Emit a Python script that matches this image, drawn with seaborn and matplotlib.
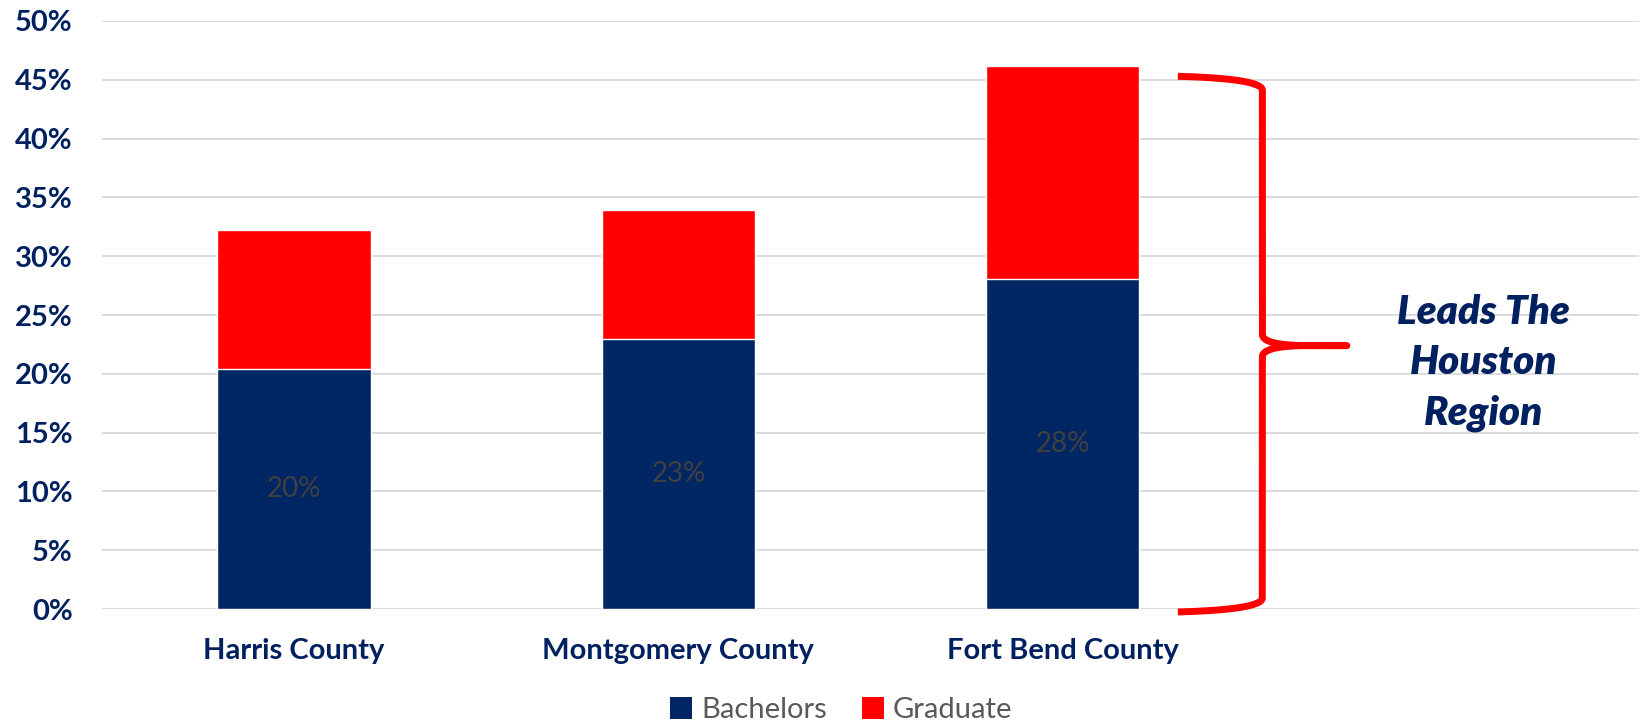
import matplotlib
matplotlib.use("Agg")
import matplotlib.pyplot as plt
import seaborn as sns
import pandas as pd
import numpy as np
from matplotlib.patches import Patch

# ---- data ----
counties = ["Harris County", "Montgomery County", "Fort Bend County"]
bachelors = [0.204, 0.230, 0.281]
graduate = [0.118, 0.109, 0.181]
bach_labels = ["20%", "23%", "28%"]
series_names = ["Bachelors", "Graduate"]
y_ticks = [0.0, 0.05, 0.10, 0.15, 0.20, 0.25, 0.30, 0.35, 0.40, 0.45, 0.50]
note_text = "Leads The\nHouston\nRegion"

NAVY = "#002664"
TEXT_NAVY = "#002060"
RED = "#FF0000"

sns.set_theme(style="white")
plt.rcParams["font.family"] = ["Lato", "DejaVu Sans"]

fig = plt.figure(figsize=(16.46, 7.24), dpi=100)
ax = fig.add_axes([0.062, 0.1588, 0.9337, 0.8122])

df = pd.DataFrame({"county": counties,
                   "bach": bachelors,
                   "total": [b + g for b, g in zip(bachelors, graduate)]})

sns.barplot(data=df, x="county", y="total", color=RED, width=0.4,
            saturation=1, ax=ax, order=counties, zorder=2)
sns.barplot(data=df, x="county", y="bach", color=NAVY, width=0.4,
            saturation=1, ax=ax, order=counties, zorder=3)

for i, (b, lab) in enumerate(zip(bachelors, bach_labels)):
    ax.text(i, b / 2, lab, ha="center", va="center", fontsize=20,
            color="#404040", zorder=4)

ax.set_xlim(-0.5, 3.5)
ax.set_ylim(0, 0.5)
ax.set_yticks(y_ticks)
ax.set_yticklabels([f"{int(round(t*100))}%" for t in y_ticks])
ax.set_xlabel("")
ax.set_ylabel("")
ax.yaxis.grid(True, color="#D9D9D9", linewidth=1.3)
ax.set_axisbelow(True)
for s in ax.spines.values():
    s.set_visible(False)
ax.tick_params(axis="y", length=0, pad=21, labelsize=21, labelcolor=TEXT_NAVY)
ax.tick_params(axis="x", length=0, pad=21, labelsize=21, labelcolor=TEXT_NAVY)
for lbl in ax.get_yticklabels() + ax.get_xticklabels():
    lbl.set_fontweight("bold")

# ---- brace annotation ----
xl, xs, xt = 2.30, 2.52, 2.74
y_top, y_bot, y_mid = 0.453, -0.0025, 0.224
ry = 0.012

def qbez(p0, p1, p2, n=30):
    t = np.linspace(0, 1, n)[:, None]
    p0, p1, p2 = map(np.array, (p0, p1, p2))
    return (1 - t) ** 2 * p0 + 2 * (1 - t) * t * p1 + t ** 2 * p2

segs = [
    qbez((xl, y_top), (xs, y_top - 0.002), (xs, y_top - ry)),
    np.array([[xs, y_top - ry], [xs, y_mid + ry * 0.8]]),
    qbez((xs, y_mid + ry * 0.8), (xs, y_mid), (xs + 0.12, y_mid)),
    np.array([[xs + 0.12, y_mid], [xt, y_mid]]),
    np.array([[xt, y_mid], [xs + 0.12, y_mid]]),
    qbez((xs + 0.12, y_mid), (xs, y_mid), (xs, y_mid - ry * 0.8)),
    np.array([[xs, y_mid - ry * 0.8], [xs, y_bot + ry]]),
    qbez((xs, y_bot + ry), (xs, y_bot + 0.002), (xl, y_bot)),
]
pts = np.vstack(segs)
ax.plot(pts[:, 0], pts[:, 1], color=RED, lw=5, solid_capstyle="butt",
        solid_joinstyle="round", clip_on=False, zorder=5)

ax.text(3.095, 0.209, note_text, ha="center", va="center", fontsize=29,
        fontweight="heavy", fontstyle="italic", color=TEXT_NAVY,
        linespacing=1.45, zorder=5)

handles = [Patch(facecolor=NAVY, edgecolor="none"),
           Patch(facecolor=RED, edgecolor="none")]
fig.legend(handles, series_names, loc="center", bbox_to_anchor=(0.511, 0.019),
           ncol=2, frameon=False, fontsize=21, labelcolor="#595959",
           handlelength=0.75, handleheight=0.75, handletextpad=0.3,
           columnspacing=1.2, borderpad=0.1)

fig.savefig("out.png", dpi=100)
